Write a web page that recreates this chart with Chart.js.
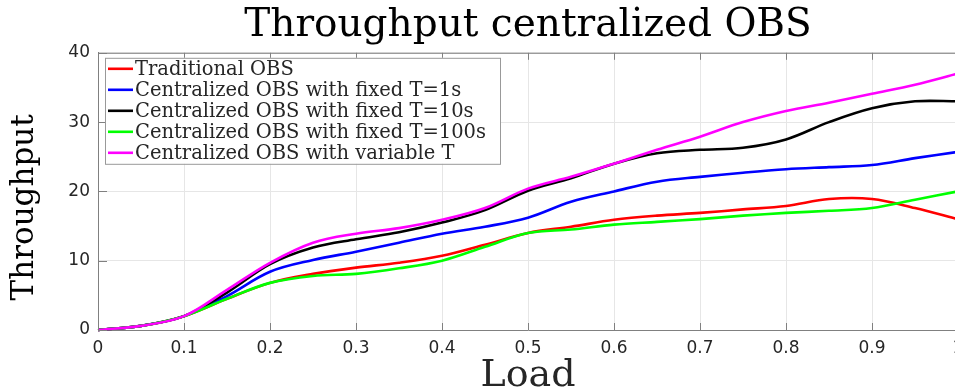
<!DOCTYPE html>
<html>
<head>
<meta charset="utf-8">
<script src="https://cdn.jsdelivr.net/npm/chart.js@4.4.1/dist/chart.umd.min.js"></script>
<style>
  html, body { margin: 0; padding: 0; background: #fff; overflow: hidden; }
  #wrap { width: 980px; height: 392px; }
</style>
</head>
<body>
<div id="wrap"><canvas id="chart"></canvas></div>
<script>
// load values on the x axis
const loads = [0, 0.05, 0.1, 0.15, 0.2, 0.25, 0.3, 0.35, 0.4, 0.45, 0.5,
               0.55, 0.6, 0.65, 0.7, 0.75, 0.8, 0.85, 0.9, 0.95, 1.0];

// throughput per series
const traditional = [0, 0.6, 2.0, 4.5, 6.8, 8.1, 9.0, 9.7, 10.7, 12.3, 14.0,
                     14.9, 15.9, 16.5, 16.9, 17.4, 17.9, 18.9, 18.9, 17.6, 16.0];
const fixedT1     = [0, 0.6, 2.0, 4.9, 8.4, 10.1, 11.3, 12.6, 13.9, 14.9, 16.2,
                     18.5, 20.0, 21.4, 22.1, 22.7, 23.2, 23.5, 23.8, 24.8, 25.7];
const fixedT10    = [0, 0.6, 2.0, 5.4, 9.5, 11.9, 13.1, 14.1, 15.5, 17.3, 20.1,
                     21.9, 24.0, 25.5, 26.0, 26.3, 27.5, 30.0, 32.0, 33.0, 33.0];
const fixedT100   = [0, 0.6, 2.0, 4.5, 6.8, 7.8, 8.1, 8.9, 10.0, 12.0, 14.0,
                     14.5, 15.2, 15.6, 16.0, 16.5, 16.9, 17.2, 17.6, 18.8, 20.0];
const variableT   = [0, 0.6, 2.0, 5.8, 9.7, 12.6, 13.9, 14.7, 15.9, 17.6, 20.4,
                     22.1, 24.0, 26.0, 27.9, 30.0, 31.6, 32.8, 34.1, 35.4, 37.0];

const seriesNames = ['Traditional OBS',
                     'Centralized OBS with fixed T=1s',
                     'Centralized OBS with fixed T=10s',
                     'Centralized OBS with fixed T=100s',
                     'Centralized OBS with variable T'];
const seriesColors = ['#ff0000', '#0000ff', '#000000', '#00ff00', '#ff00ff'];
const seriesValues = [traditional, fixedT1, fixedT10, fixedT100, variableT];
const drawOrder = [5, 4, 3, 2, 1];

const yTicks = [0, 10, 20, 30, 40];

const datasets = seriesValues.map((vals, i) => ({
  label: seriesNames[i],
  data: vals.map((v, j) => ({ x: loads[j], y: v })),
  borderColor: seriesColors[i],
  backgroundColor: seriesColors[i],
  borderWidth: 2.6,
  pointRadius: 0,
  tension: 0.35,
  order: drawOrder[i],
  clip: false
}));

const tickFont = { family: 'DejaVu Sans', size: 17 };
const serif = 'DejaVu Serif';
const axisGray = '#808080';

// MATLAB-like box: top edge plus inward tick marks, and the y label
const boxPlugin = {
  id: 'box',
  afterDatasetsDraw(chart) {
    const { ctx, chartArea: a, scales } = chart;
    ctx.save();
    ctx.strokeStyle = axisGray;
    ctx.lineWidth = 1;
    ctx.beginPath();
    ctx.moveTo(a.left, a.top + 0.5);
    ctx.lineTo(a.right, a.top + 0.5);
    ctx.moveTo(a.right - 0.5, a.top);
    ctx.lineTo(a.right - 0.5, a.bottom);
    scales.x.ticks.forEach(t => {
      const px = Math.round(scales.x.getPixelForValue(t.value)) + 0.5;
      ctx.moveTo(px, a.bottom); ctx.lineTo(px, a.bottom - 7);
      ctx.moveTo(px, a.top); ctx.lineTo(px, a.top + 7);
    });
    scales.y.ticks.forEach(t => {
      const py = Math.round(scales.y.getPixelForValue(t.value)) + 0.5;
      ctx.moveTo(a.left, py); ctx.lineTo(a.left + 9, py);
    });
    ctx.stroke();

    // y axis label, sitting a little below the axis middle as in the figure
    ctx.translate(25, (a.top + a.bottom) / 2 + 16);
    ctx.rotate(-Math.PI / 2);
    ctx.font = '31px "' + serif + '"';
    ctx.fillStyle = '#000000';
    ctx.textAlign = 'center';
    ctx.textBaseline = 'middle';
    ctx.fillText('Throughput', 0, 0);
    ctx.restore();
  }
};

// legend box in the upper left of the plot
const legendPlugin = {
  id: 'boxLegend',
  afterDraw(chart) {
    const { ctx, chartArea: a } = chart;
    const x0 = a.left + 7, y0 = a.top + 5, w = 395, rowH = 21;
    const h = rowH * chart.data.datasets.length + 1;
    ctx.save();
    ctx.fillStyle = '#ffffff';
    ctx.fillRect(x0, y0, w, h);
    ctx.strokeStyle = '#999999';
    ctx.lineWidth = 1;
    ctx.strokeRect(x0 + 0.5, y0 + 0.5, w, h);
    ctx.font = '19.5px "' + serif + '"';
    ctx.textBaseline = 'middle';
    ctx.fillStyle = '#262626';
    chart.data.datasets.forEach((ds, i) => {
      const cy = y0 + 11 + i * rowH;
      ctx.strokeStyle = ds.borderColor;
      ctx.lineWidth = 2.6;
      ctx.beginPath();
      ctx.moveTo(x0 + 3, cy);
      ctx.lineTo(x0 + 28, cy);
      ctx.stroke();
      ctx.fillText(ds.label, x0 + 30, cy + 1);
    });
    ctx.restore();
  }
};

new Chart(document.getElementById('chart'), {
  type: 'line',
  data: { datasets },
  plugins: [boxPlugin, legendPlugin],
  options: {
    responsive: true,
    maintainAspectRatio: false,
    animation: false,
    layout: { padding: { left: 0, right: 22, top: 0, bottom: 0 } },
    plugins: {
      legend: { display: false },
      tooltip: { enabled: false },
      title: {
        display: true,
        text: 'Throughput centralized OBS',
        fullSize: false,
        color: '#000000',
        font: { family: serif, size: 39, weight: 'normal', lineHeight: 1.2 },
        padding: { top: 2, bottom: 4 }
      }
    },
    scales: {
      x: {
        type: 'linear',
        min: 0,
        max: 1,
        ticks: {
          stepSize: 0.1,
          color: '#262626',
          font: tickFont,
          padding: 8,
          maxRotation: 0,
          callback: v => String(Math.round(v * 10) / 10)
        },
        grid: { color: '#e6e6e6', drawTicks: false },
        border: { color: axisGray, width: 1 },
        title: {
          display: true,
          text: 'Load',
          color: '#262626',
          font: { family: serif, size: 38, lineHeight: 1.0 },
          padding: { top: 0, bottom: -3 }
        },
        afterFit: s => { s.height = 62; }
      },
      y: {
        min: 0,
        max: 40,
        afterBuildTicks: s => { s.ticks = yTicks.map(v => ({ value: v })); },
        ticks: {
          color: '#262626',
          font: tickFont,
          padding: 8
        },
        grid: { color: '#e6e6e6', drawTicks: false },
        border: { color: axisGray, width: 1 },
        title: { display: false },
        afterFit: s => { s.width = 98; }
      }
    }
  }
});
</script>
</body>
</html>
